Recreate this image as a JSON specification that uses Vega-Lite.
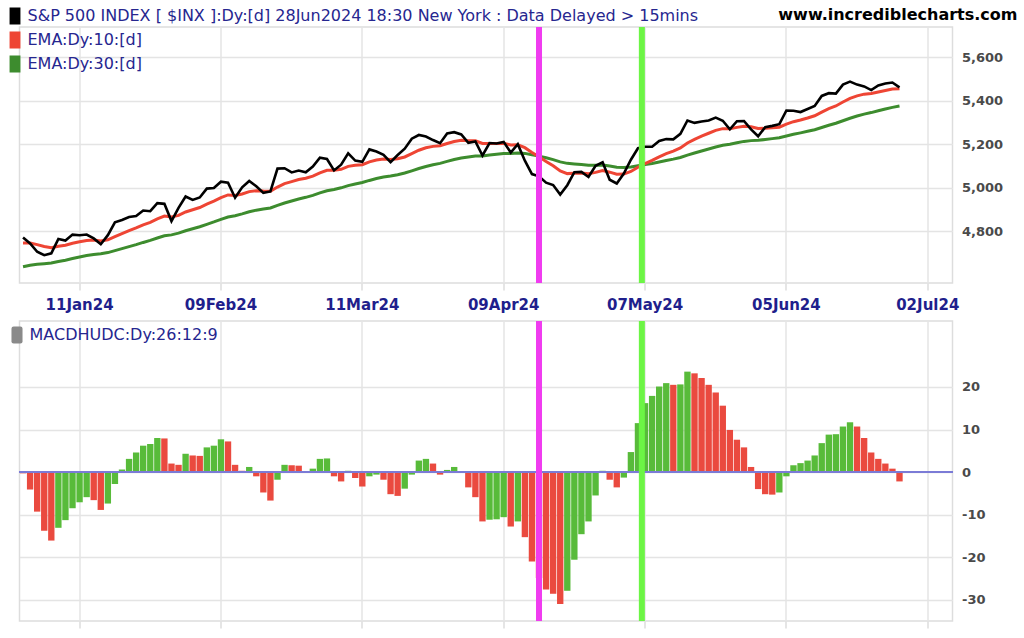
{
  "$schema": "https://vega.github.io/schema/vega-lite/v6.json",
  "background": "white",
  "padding": {"left": 4.5, "top": 5, "right": 0, "bottom": 0},
  "spacing": 4,
  "resolve": {
    "scale": {"color": "independent", "opacity": "independent"},
    "legend": {"color": "independent", "opacity": "independent"}
  },
  "datasets": {
    "daily": [
      {"date": "2023-12-29", "close": 4769.83, "ema10": 4745.0, "ema30": 4636.0, "hist": -0.3, "dir": "down"},
      {"date": "2024-01-02", "close": 4742.83, "ema10": 4744.6, "ema30": 4642.9, "hist": -4.1, "dir": "down"},
      {"date": "2024-01-03", "close": 4704.81, "ema10": 4737.4, "ema30": 4646.9, "hist": -9.3, "dir": "down"},
      {"date": "2024-01-04", "close": 4688.68, "ema10": 4728.5, "ema30": 4649.6, "hist": -13.8, "dir": "down"},
      {"date": "2024-01-05", "close": 4697.24, "ema10": 4722.8, "ema30": 4652.7, "hist": -16.1, "dir": "down"},
      {"date": "2024-01-08", "close": 4763.54, "ema10": 4730.2, "ema30": 4659.8, "hist": -13.1, "dir": "up"},
      {"date": "2024-01-09", "close": 4756.50, "ema10": 4735.0, "ema30": 4666.0, "hist": -11.3, "dir": "up"},
      {"date": "2024-01-10", "close": 4783.45, "ema10": 4743.8, "ema30": 4673.6, "hist": -8.5, "dir": "up"},
      {"date": "2024-01-11", "close": 4780.24, "ema10": 4750.4, "ema30": 4680.5, "hist": -7.1, "dir": "up"},
      {"date": "2024-01-12", "close": 4783.83, "ema10": 4756.5, "ema30": 4687.2, "hist": -5.9, "dir": "up"},
      {"date": "2024-01-16", "close": 4765.98, "ema10": 4758.2, "ema30": 4692.3, "hist": -6.6, "dir": "down"},
      {"date": "2024-01-17", "close": 4739.21, "ema10": 4754.7, "ema30": 4695.3, "hist": -8.9, "dir": "down"},
      {"date": "2024-01-18", "close": 4780.94, "ema10": 4759.5, "ema30": 4700.8, "hist": -7.4, "dir": "up"},
      {"date": "2024-01-19", "close": 4839.81, "ema10": 4774.1, "ema30": 4709.8, "hist": -2.8, "dir": "up"},
      {"date": "2024-01-22", "close": 4850.43, "ema10": 4788.0, "ema30": 4718.9, "hist": 0.6, "dir": "up"},
      {"date": "2024-01-23", "close": 4864.60, "ema10": 4801.9, "ema30": 4728.3, "hist": 3.1, "dir": "up"},
      {"date": "2024-01-24", "close": 4868.55, "ema10": 4814.0, "ema30": 4737.4, "hist": 4.6, "dir": "up"},
      {"date": "2024-01-25", "close": 4894.16, "ema10": 4828.6, "ema30": 4747.5, "hist": 6.2, "dir": "up"},
      {"date": "2024-01-26", "close": 4890.97, "ema10": 4839.9, "ema30": 4756.8, "hist": 6.6, "dir": "up"},
      {"date": "2024-01-29", "close": 4927.93, "ema10": 4855.9, "ema30": 4767.8, "hist": 8.0, "dir": "up"},
      {"date": "2024-01-30", "close": 4924.97, "ema10": 4868.5, "ema30": 4777.9, "hist": 7.9, "dir": "down"},
      {"date": "2024-01-31", "close": 4845.65, "ema10": 4864.4, "ema30": 4782.3, "hist": 2.0, "dir": "down"},
      {"date": "2024-02-01", "close": 4906.19, "ema10": 4872.0, "ema30": 4790.3, "hist": 1.7, "dir": "down"},
      {"date": "2024-02-02", "close": 4958.61, "ema10": 4887.7, "ema30": 4801.2, "hist": 4.3, "dir": "up"},
      {"date": "2024-02-05", "close": 4942.81, "ema10": 4897.7, "ema30": 4810.3, "hist": 3.9, "dir": "down"},
      {"date": "2024-02-06", "close": 4954.23, "ema10": 4908.0, "ema30": 4819.6, "hist": 3.8, "dir": "down"},
      {"date": "2024-02-07", "close": 4995.06, "ema10": 4923.8, "ema30": 4830.9, "hist": 5.8, "dir": "up"},
      {"date": "2024-02-08", "close": 4997.91, "ema10": 4937.3, "ema30": 4841.7, "hist": 6.2, "dir": "up"},
      {"date": "2024-02-09", "close": 5026.61, "ema10": 4953.5, "ema30": 4853.6, "hist": 7.7, "dir": "up"},
      {"date": "2024-02-12", "close": 5021.84, "ema10": 4965.9, "ema30": 4864.5, "hist": 7.2, "dir": "down"},
      {"date": "2024-02-13", "close": 4953.17, "ema10": 4963.6, "ema30": 4870.2, "hist": 1.7, "dir": "down"},
      {"date": "2024-02-14", "close": 5000.62, "ema10": 4970.3, "ema30": 4878.6, "hist": 0.3, "dir": "down"},
      {"date": "2024-02-15", "close": 5029.73, "ema10": 4981.1, "ema30": 4888.3, "hist": 1.2, "dir": "up"},
      {"date": "2024-02-16", "close": 5005.57, "ema10": 4985.6, "ema30": 4895.9, "hist": -1.0, "dir": "down"},
      {"date": "2024-02-20", "close": 4975.51, "ema10": 4983.8, "ema30": 4901.0, "hist": -4.8, "dir": "down"},
      {"date": "2024-02-21", "close": 4981.80, "ema10": 4983.4, "ema30": 4906.2, "hist": -6.7, "dir": "down"},
      {"date": "2024-02-22", "close": 5087.03, "ema10": 5002.2, "ema30": 4917.9, "hist": -1.8, "dir": "up"},
      {"date": "2024-02-23", "close": 5088.80, "ema10": 5017.9, "ema30": 4928.9, "hist": 1.7, "dir": "up"},
      {"date": "2024-02-26", "close": 5069.53, "ema10": 5027.3, "ema30": 4938.0, "hist": 1.6, "dir": "down"},
      {"date": "2024-02-27", "close": 5078.18, "ema10": 5036.6, "ema30": 4947.0, "hist": 1.5, "dir": "down"},
      {"date": "2024-02-28", "close": 5069.76, "ema10": 5042.6, "ema30": 4954.9, "hist": -0.2, "dir": "down"},
      {"date": "2024-02-29", "close": 5096.27, "ema10": 5052.4, "ema30": 4964.0, "hist": 0.8, "dir": "up"},
      {"date": "2024-03-01", "close": 5137.08, "ema10": 5067.8, "ema30": 4975.2, "hist": 3.1, "dir": "up"},
      {"date": "2024-03-04", "close": 5130.95, "ema10": 5079.3, "ema30": 4985.3, "hist": 3.2, "dir": "up"},
      {"date": "2024-03-05", "close": 5078.65, "ema10": 5079.2, "ema30": 4991.3, "hist": -1.0, "dir": "down"},
      {"date": "2024-03-06", "close": 5104.76, "ema10": 5083.9, "ema30": 4998.6, "hist": -2.2, "dir": "down"},
      {"date": "2024-03-07", "close": 5157.36, "ema10": 5097.3, "ema30": 5008.8, "hist": 0.3, "dir": "up"},
      {"date": "2024-03-08", "close": 5123.69, "ema10": 5102.1, "ema30": 5016.2, "hist": -1.4, "dir": "down"},
      {"date": "2024-03-11", "close": 5117.94, "ema10": 5105.0, "ema30": 5022.8, "hist": -3.4, "dir": "down"},
      {"date": "2024-03-12", "close": 5175.27, "ema10": 5117.8, "ema30": 5032.6, "hist": -1.0, "dir": "up"},
      {"date": "2024-03-13", "close": 5165.31, "ema10": 5126.4, "ema30": 5041.2, "hist": -0.6, "dir": "up"},
      {"date": "2024-03-14", "close": 5150.48, "ema10": 5130.8, "ema30": 5048.3, "hist": -1.8, "dir": "down"},
      {"date": "2024-03-15", "close": 5117.09, "ema10": 5128.3, "ema30": 5052.7, "hist": -5.2, "dir": "down"},
      {"date": "2024-03-18", "close": 5149.42, "ema10": 5132.1, "ema30": 5058.9, "hist": -5.6, "dir": "down"},
      {"date": "2024-03-19", "close": 5178.51, "ema10": 5140.5, "ema30": 5066.6, "hist": -3.9, "dir": "up"},
      {"date": "2024-03-20", "close": 5224.62, "ema10": 5155.8, "ema30": 5076.8, "hist": -0.6, "dir": "up"},
      {"date": "2024-03-21", "close": 5241.53, "ema10": 5171.4, "ema30": 5087.4, "hist": 2.7, "dir": "up"},
      {"date": "2024-03-22", "close": 5234.18, "ema10": 5182.8, "ema30": 5096.9, "hist": 3.1, "dir": "up"},
      {"date": "2024-03-25", "close": 5218.19, "ema10": 5189.2, "ema30": 5104.7, "hist": 2.0, "dir": "down"},
      {"date": "2024-03-26", "close": 5203.58, "ema10": 5191.8, "ema30": 5111.1, "hist": -0.6, "dir": "down"},
      {"date": "2024-03-27", "close": 5248.49, "ema10": 5202.1, "ema30": 5120.0, "hist": 0.5, "dir": "up"},
      {"date": "2024-03-28", "close": 5254.35, "ema10": 5211.6, "ema30": 5128.7, "hist": 1.2, "dir": "up"},
      {"date": "2024-04-01", "close": 5243.77, "ema10": 5217.5, "ema30": 5136.1, "hist": -0.2, "dir": "down"},
      {"date": "2024-04-02", "close": 5205.81, "ema10": 5215.4, "ema30": 5140.6, "hist": -3.6, "dir": "down"},
      {"date": "2024-04-03", "close": 5211.49, "ema10": 5214.7, "ema30": 5145.2, "hist": -5.9, "dir": "down"},
      {"date": "2024-04-04", "close": 5147.21, "ema10": 5202.4, "ema30": 5145.3, "hist": -11.6, "dir": "down"},
      {"date": "2024-04-05", "close": 5204.34, "ema10": 5202.7, "ema30": 5149.1, "hist": -11.2, "dir": "up"},
      {"date": "2024-04-08", "close": 5202.39, "ema10": 5202.6, "ema30": 5152.5, "hist": -11.1, "dir": "up"},
      {"date": "2024-04-09", "close": 5209.91, "ema10": 5203.9, "ema30": 5156.2, "hist": -10.6, "dir": "up"},
      {"date": "2024-04-10", "close": 5160.64, "ema10": 5196.0, "ema30": 5156.5, "hist": -12.8, "dir": "down"},
      {"date": "2024-04-11", "close": 5199.06, "ema10": 5196.6, "ema30": 5159.2, "hist": -11.6, "dir": "up"},
      {"date": "2024-04-12", "close": 5123.41, "ema10": 5183.3, "ema30": 5156.9, "hist": -15.3, "dir": "down"},
      {"date": "2024-04-15", "close": 5061.82, "ema10": 5161.2, "ema30": 5150.8, "hist": -21.0, "dir": "down"},
      {"date": "2024-04-16", "close": 5051.41, "ema10": 5141.2, "ema30": 5144.4, "hist": -24.9, "dir": "down"},
      {"date": "2024-04-17", "close": 5022.21, "ema10": 5119.6, "ema30": 5136.5, "hist": -27.6, "dir": "down"},
      {"date": "2024-04-18", "close": 5011.12, "ema10": 5099.9, "ema30": 5128.4, "hist": -28.6, "dir": "down"},
      {"date": "2024-04-19", "close": 4967.23, "ema10": 5075.8, "ema30": 5118.0, "hist": -31.0, "dir": "down"},
      {"date": "2024-04-22", "close": 5010.60, "ema10": 5063.9, "ema30": 5111.1, "hist": -27.9, "dir": "up"},
      {"date": "2024-04-23", "close": 5070.55, "ema10": 5065.1, "ema30": 5108.5, "hist": -20.6, "dir": "up"},
      {"date": "2024-04-24", "close": 5071.63, "ema10": 5066.3, "ema30": 5106.1, "hist": -14.6, "dir": "up"},
      {"date": "2024-04-25", "close": 5048.42, "ema10": 5063.0, "ema30": 5102.4, "hist": -11.6, "dir": "up"},
      {"date": "2024-04-26", "close": 5099.96, "ema10": 5069.7, "ema30": 5102.2, "hist": -5.5, "dir": "up"},
      {"date": "2024-04-29", "close": 5116.17, "ema10": 5078.2, "ema30": 5103.1, "hist": 0.3, "dir": "up"},
      {"date": "2024-04-30", "close": 5035.69, "ema10": 5070.5, "ema30": 5098.8, "hist": -1.8, "dir": "down"},
      {"date": "2024-05-01", "close": 5018.39, "ema10": 5061.0, "ema30": 5093.6, "hist": -3.6, "dir": "down"},
      {"date": "2024-05-02", "close": 5064.20, "ema10": 5061.6, "ema30": 5091.7, "hist": -1.3, "dir": "up"},
      {"date": "2024-05-03", "close": 5127.79, "ema10": 5073.6, "ema30": 5094.0, "hist": 4.7, "dir": "up"},
      {"date": "2024-05-06", "close": 5180.74, "ema10": 5093.1, "ema30": 5099.6, "hist": 11.5, "dir": "up"},
      {"date": "2024-05-07", "close": 5187.70, "ema10": 5110.3, "ema30": 5105.3, "hist": 16.2, "dir": "up"},
      {"date": "2024-05-08", "close": 5187.67, "ema10": 5124.4, "ema30": 5110.6, "hist": 17.9, "dir": "up"},
      {"date": "2024-05-09", "close": 5214.08, "ema10": 5140.7, "ema30": 5117.3, "hist": 20.1, "dir": "up"},
      {"date": "2024-05-10", "close": 5222.68, "ema10": 5155.6, "ema30": 5124.1, "hist": 20.9, "dir": "up"},
      {"date": "2024-05-13", "close": 5221.42, "ema10": 5167.6, "ema30": 5130.4, "hist": 20.5, "dir": "down"},
      {"date": "2024-05-14", "close": 5246.68, "ema10": 5182.0, "ema30": 5137.9, "hist": 20.6, "dir": "up"},
      {"date": "2024-05-15", "close": 5308.15, "ema10": 5204.9, "ema30": 5148.9, "hist": 23.6, "dir": "up"},
      {"date": "2024-05-16", "close": 5297.10, "ema10": 5221.7, "ema30": 5158.5, "hist": 23.2, "dir": "down"},
      {"date": "2024-05-17", "close": 5303.27, "ema10": 5236.5, "ema30": 5167.8, "hist": 22.1, "dir": "down"},
      {"date": "2024-05-20", "close": 5308.13, "ema10": 5249.5, "ema30": 5176.9, "hist": 20.5, "dir": "down"},
      {"date": "2024-05-21", "close": 5321.41, "ema10": 5262.6, "ema30": 5186.2, "hist": 18.7, "dir": "down"},
      {"date": "2024-05-22", "close": 5307.01, "ema10": 5270.7, "ema30": 5194.0, "hist": 15.6, "dir": "down"},
      {"date": "2024-05-23", "close": 5267.84, "ema10": 5270.2, "ema30": 5198.8, "hist": 9.9, "dir": "down"},
      {"date": "2024-05-24", "close": 5304.72, "ema10": 5276.5, "ema30": 5205.6, "hist": 7.6, "dir": "down"},
      {"date": "2024-05-28", "close": 5306.04, "ema10": 5281.9, "ema30": 5212.1, "hist": 5.8, "dir": "down"},
      {"date": "2024-05-29", "close": 5266.95, "ema10": 5279.2, "ema30": 5215.6, "hist": 1.2, "dir": "down"},
      {"date": "2024-05-30", "close": 5235.48, "ema10": 5271.3, "ema30": 5216.9, "hist": -4.0, "dir": "down"},
      {"date": "2024-05-31", "close": 5277.51, "ema10": 5272.4, "ema30": 5220.8, "hist": -5.2, "dir": "down"},
      {"date": "2024-06-03", "close": 5283.40, "ema10": 5274.4, "ema30": 5224.8, "hist": -5.3, "dir": "down"},
      {"date": "2024-06-04", "close": 5291.34, "ema10": 5277.5, "ema30": 5229.1, "hist": -4.8, "dir": "up"},
      {"date": "2024-06-05", "close": 5354.03, "ema10": 5291.4, "ema30": 5237.2, "hist": -1.0, "dir": "up"},
      {"date": "2024-06-06", "close": 5352.96, "ema10": 5302.6, "ema30": 5244.7, "hist": 1.6, "dir": "up"},
      {"date": "2024-06-07", "close": 5346.99, "ema10": 5310.7, "ema30": 5251.3, "hist": 2.1, "dir": "up"},
      {"date": "2024-06-10", "close": 5360.79, "ema10": 5319.8, "ema30": 5258.4, "hist": 2.7, "dir": "up"},
      {"date": "2024-06-11", "close": 5375.32, "ema10": 5329.9, "ema30": 5265.9, "hist": 3.9, "dir": "up"},
      {"date": "2024-06-12", "close": 5421.03, "ema10": 5346.5, "ema30": 5275.9, "hist": 6.8, "dir": "up"},
      {"date": "2024-06-13", "close": 5433.74, "ema10": 5362.4, "ema30": 5286.1, "hist": 8.8, "dir": "up"},
      {"date": "2024-06-14", "close": 5431.60, "ema10": 5375.0, "ema30": 5295.5, "hist": 8.9, "dir": "up"},
      {"date": "2024-06-17", "close": 5473.23, "ema10": 5392.9, "ema30": 5307.0, "hist": 10.7, "dir": "up"},
      {"date": "2024-06-18", "close": 5487.03, "ema10": 5410.0, "ema30": 5318.6, "hist": 11.7, "dir": "up"},
      {"date": "2024-06-20", "close": 5473.17, "ema10": 5421.5, "ema30": 5328.6, "hist": 10.7, "dir": "down"},
      {"date": "2024-06-21", "close": 5464.62, "ema10": 5429.3, "ema30": 5337.4, "hist": 8.0, "dir": "down"},
      {"date": "2024-06-24", "close": 5447.87, "ema10": 5432.7, "ema30": 5344.5, "hist": 4.6, "dir": "down"},
      {"date": "2024-06-25", "close": 5469.30, "ema10": 5439.4, "ema30": 5352.6, "hist": 3.1, "dir": "down"},
      {"date": "2024-06-26", "close": 5477.90, "ema10": 5446.4, "ema30": 5360.7, "hist": 2.0, "dir": "down"},
      {"date": "2024-06-27", "close": 5482.87, "ema10": 5453.0, "ema30": 5368.6, "hist": 0.8, "dir": "down"},
      {"date": "2024-06-28", "close": 5460.48, "ema10": 5454.4, "ema30": 5374.5, "hist": -2.2, "dir": "down"}
    ],
    "events": [
      {"date": "2024-04-16", "kind": "sell"},
      {"date": "2024-05-07", "kind": "buy"}
    ]
  },
  "vconcat": [
    {
      "width": 933,
      "height": 256,
      "title": {
        "text": "www.incrediblecharts.com",
        "anchor": "end",
        "frame": "group",
        "dx": 65,
        "offset": -16,
        "font": "DejaVu Sans",
        "fontSize": 16,
        "fontWeight": "bold",
        "color": "#000000"
      },
      "data": {"name": "daily"},
      "encoding": {
        "x": {
          "field": "date",
          "type": "ordinal",
          "bandPosition": 0.5,
          "scale": {
            "type": "band",
            "paddingInner": 0.1,
            "paddingOuter": 0.05,
            "domain": {"unionWith": ["2024-06-29", "2024-06-30", "2024-07-01", "2024-07-02", "2024-07-03", "2024-07-04", "2024-07-05"]}
          },
          "axis": {
            "title": null,
            "values": ["2024-01-11", "2024-02-09", "2024-03-11", "2024-04-09", "2024-05-07", "2024-06-05", "2024-07-02"],
            "labelExpr": "timeFormat(timeParse(datum.value, '%Y-%m-%d'), '%d%b%y')",
            "labelAngle": 0,
            "labelAlign": "center",
            "labelBaseline": "top",
            "labelFontSize": 15,
            "labelFontWeight": "bold",
            "labelColor": "#1f1f8c",
            "labelPadding": 7,
            "bandPosition": 0.5
          }
        }
      },
      "layer": [
        {
          "mark": {"type": "line", "strokeWidth": 3},
          "encoding": {
            "y": {
              "field": "ema30",
              "type": "quantitative",
              "scale": {"domain": [4561, 5738], "nice": false, "zero": false},
              "axis": {"orient": "right", "title": null, "values": [4800, 5000, 5200, 5400, 5600], "labelExpr": "format(datum.value, ',')", "ticks": false, "labelPadding": 9, "labelFontSize": 13, "labelFontWeight": "bold", "labelColor": "#4a4a4a"}
            },
            "color": {
              "datum": "EMA:Dy:30:[d]",
              "type": "nominal",
              "scale": {
                "domain": ["S&P 500 INDEX [ $INX ]:Dy:[d]  28Jun2024 18:30 New York : Data Delayed > 15mins", "EMA:Dy:10:[d]", "EMA:Dy:30:[d]"],
                "range": ["#000000", "#ee4534", "#3d8c2e"]
              },
              "legend": {
                "orient": "none",
                "legendX": -14,
                "legendY": -20.5,
                "title": null,
                "padding": 0,
                "symbolType": "M-0.54,-1V1M-0.36,-1V1M-0.18,-1V1M0,-1V1M0.18,-1V1M0.36,-1V1M0.54,-1V1",
                "symbolSize": 289,
                "symbolStrokeWidth": 1.7,
                "symbolOpacity": 1,
                "labelFontSize": 16,
                "labelColor": "#26268f",
                "labelOffset": 3,
                "labelLimit": 1000,
                "rowPadding": -1
              }
            }
          }
        },
        {
          "mark": {"type": "line", "strokeWidth": 3},
          "encoding": {
            "y": {"field": "ema10", "type": "quantitative"},
            "color": {"datum": "EMA:Dy:10:[d]", "type": "nominal"}
          }
        },
        {
          "mark": {"type": "line", "strokeWidth": 2.6},
          "encoding": {
            "y": {"field": "close", "type": "quantitative"},
            "color": {"datum": "S&P 500 INDEX [ $INX ]:Dy:[d]  28Jun2024 18:30 New York : Data Delayed > 15mins", "type": "nominal"}
          }
        },
        {
          "data": {"name": "events"},
          "transform": [{"filter": "datum.kind === 'sell'"}],
          "mark": {"type": "rule", "color": "#f03cf0", "strokeWidth": 6},
          "encoding": {"x": {"field": "date", "type": "ordinal", "bandPosition": 0.5}}
        },
        {
          "data": {"name": "events"},
          "transform": [{"filter": "datum.kind === 'buy'"}],
          "mark": {"type": "rule", "color": "#6cf545", "strokeWidth": 6},
          "encoding": {"x": {"field": "date", "type": "ordinal", "bandPosition": 0}}
        }
      ]
    },
    {
      "width": 933,
      "height": 300,
      "data": {"name": "daily"},
      "layer": [
        {
          "mark": {"type": "bar"},
          "encoding": {
            "x": {
              "field": "date",
              "type": "ordinal",
              "scale": {
                "type": "band",
                "paddingInner": 0.1,
                "paddingOuter": 0.05,
                "domain": {"unionWith": ["2024-06-29", "2024-06-30", "2024-07-01", "2024-07-02", "2024-07-03", "2024-07-04", "2024-07-05"]}
              },
              "axis": {
                "title": null,
                "values": ["2024-01-11", "2024-02-09", "2024-03-11", "2024-04-09", "2024-05-07", "2024-06-05", "2024-07-02"],
                "labels": false,
                "bandPosition": 0.5
              }
            },
            "y": {
              "field": "hist",
              "type": "quantitative",
              "scale": {"domain": [-35, 35.5], "nice": false},
              "axis": {"orient": "right", "title": null, "values": [-30, -20, -10, 0, 10, 20], "labelExpr": "toString(datum.value)", "ticks": false, "labelPadding": 9, "labelFontSize": 13, "labelFontWeight": "bold", "labelColor": "#4a4a4a"}
            },
            "color": {
              "field": "dir",
              "type": "nominal",
              "scale": {"domain": ["up", "down"], "range": ["#58bb3a", "#ea4a3f"]},
              "legend": null
            },
            "opacity": {
              "datum": "MACDHUDC:Dy:26:12:9",
              "type": "ordinal",
              "scale": {"range": [1, 1]},
              "legend": {
                "orient": "none",
                "legendX": -11,
                "legendY": 5.5,
                "title": null,
                "padding": 0,
                "symbolType": "M-0.4,-1H0.4Q0.65,-1 0.65,-0.75V0.75Q0.65,1 0.4,1H-0.4Q-0.65,1 -0.65,0.75V-0.75Q-0.65,-1 -0.4,-1Z",
                "symbolSize": 289,
                "symbolFillColor": "#8a8a8a",
                "symbolStrokeColor": "#8a8a8a",
                "symbolStrokeWidth": 0,
                "symbolOpacity": 1,
                "labelFontSize": 16,
                "labelColor": "#26268f",
                "labelOffset": 4,
                "labelLimit": 1000
              }
            }
          }
        },
        {
          "mark": {"type": "rule", "color": "#7b7bd6", "strokeWidth": 1.5},
          "encoding": {"y": {"datum": 0}}
        },
        {
          "data": {"name": "events"},
          "transform": [{"filter": "datum.kind === 'sell'"}],
          "mark": {"type": "rule", "color": "#f03cf0", "strokeWidth": 6},
          "encoding": {"x": {"field": "date", "type": "ordinal", "bandPosition": 0.5}}
        },
        {
          "data": {"name": "events"},
          "transform": [{"filter": "datum.kind === 'buy'"}],
          "mark": {"type": "rule", "color": "#6cf545", "strokeWidth": 6},
          "encoding": {"x": {"field": "date", "type": "ordinal", "bandPosition": 0}}
        }
      ]
    }
  ],
  "config": {
    "font": "DejaVu Sans",
    "view": {"stroke": "#dddddd", "strokeWidth": 1.5},
    "axis": {
      "domain": false,
      "grid": true,
      "gridColor": "#e4e4e4",
      "gridWidth": 1.5,
      "tickColor": "#dddddd",
      "tickWidth": 1.5,
      "tickSize": 7
    }
  }
}
